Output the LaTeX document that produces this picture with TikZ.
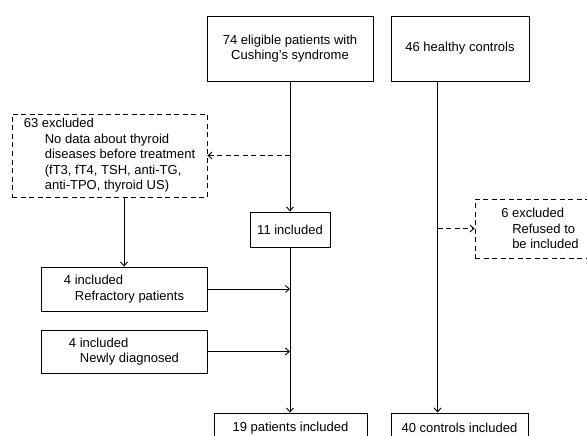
\documentclass[tikz,border=0pt]{standalone}
\usepackage{fontspec}
\setmainfont{Liberation Sans}
\usetikzlibrary{arrows.meta}

\tikzset{
  box/.style={draw, line width=0.9pt, rectangle, inner sep=0pt, align=center, font=\fontsize{13}{15.5}\selectfont},
  lbox/.style={box, align=left},
  exbox/.style={lbox, dash pattern=on 5pt off 3.5pt},
  arr/.style={line width=0.9pt, -{Straight Barb[length=4pt,width=7pt]}},
  darr/.style={arr, dash pattern=on 5pt off 3.5pt}
}

\begin{document}
\begin{tikzpicture}[x=1pt,y=-1pt]
  \useasboundingbox (0,0) rectangle (587,436);
  \clip (0,0) rectangle (587,436);
  % patient branch
  \node[box, minimum width=166pt, minimum height=65pt] (elig) at (290,48.5) {74 eligible patients with\\Cushing’s syndrome};
  \node[exbox, minimum width=195pt, minimum height=83pt] (excl63) at (109.5,155.5)
    {63 excluded\\\hspace*{21pt}No data about thyroid\\\hspace*{21pt}diseases before treatment\\\hspace*{21pt}(fT3, fT4, TSH, anti-TG,\\\hspace*{21pt}anti-TPO, thyroid US)};
  \node[box, minimum width=80pt, minimum height=35pt] (incl11) at (290,229.5) {11 included};
  \node[lbox, minimum width=166pt, minimum height=44pt] (refr) at (124,289) {4 included\\\hspace*{11pt}Refractory patients};
  \node[lbox, minimum width=166pt, minimum height=43pt] (newd) at (124,351.5) {4 included\\\hspace*{11pt}Newly diagnosed};
  \node[box, minimum width=153pt, minimum height=30pt] (pat19) at (290.5,428) {19 patients included};
  % control branch
  \node[box, minimum width=138pt, minimum height=65pt] (ctrl) at (460,48.5) {46 healthy controls};
  \node[exbox, minimum width=130pt, minimum height=59pt] (excl6) at (540,228.5) {6 excluded\\\hspace*{11pt}Refused to\\\hspace*{11pt}be included};
  \node[box, minimum width=137pt, minimum height=30pt] (ctl40) at (459.5,428) {40 controls included};

  \coordinate (j1) at (290,155.5);
  \coordinate (ctop) at ([xshift=47pt]ctrl.south west);
  \coordinate (cbot) at ([xshift=47pt]ctl40.north west);

  \draw[arr] (elig.south) -- (incl11.north);
  \draw[darr] (j1) -- (excl63.east);
  \draw[arr] (excl63.south -| refr.north) -- (refr.north);
  \draw[arr] (incl11.south) -- (incl11.south |- pat19.north);
  \draw[arr] (refr.east) -- (refr.east -| incl11.south);
  \draw[arr] (newd.east) -- (newd.east -| incl11.south);
  \draw[arr] (ctop) -- (cbot);
  \draw[darr] (excl6.west -| ctop) -- (excl6.west);
\end{tikzpicture}
\end{document}
